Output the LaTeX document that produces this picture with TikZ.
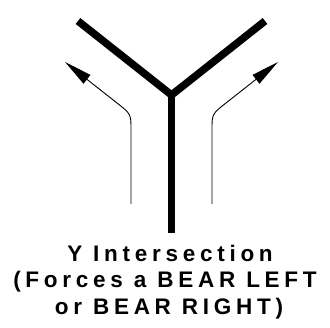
\documentclass[tikz,border=0pt]{standalone}
\usepackage{fontspec}
\setmainfont{Liberation Sans}
\newfontfamily\signfont[LetterSpace=21]{Liberation Sans}
\usetikzlibrary{arrows.meta}
\tikzset{
  road/.style={line width=7.5bp, line cap=butt, line join=miter},
  lane/.style={line width=0.9bp, -{Triangle[length=28bp,width=11bp]}},
  caption/.style={inner sep=0, anchor=base, font=\signfont\bfseries\fontsize{22.5bp}{27bp}\selectfont},
}
\begin{document}
\begin{tikzpicture}[x=1bp,y=1bp]
            \useasboundingbox (0,0) rectangle (330,328);

            % 道路 Y 形
            \coordinate (J) at (171.5,233);
            \coordinate (armL) at (78,307);
            \coordinate (armR) at (265,307);
            \coordinate (stem) at (171.5,95);
            \draw[road] (armL) -- (J) -- (armR);
            \draw[road] (J) -- (stem);

            % 左转箭头
            \coordinate (startL) at (131,124);
            \coordinate (tipL) at (65,266);
            \draw[lane] (startL) -- (131,198) .. controls (131,214) .. (117,225) -- (tipL);

            % 右转箭头
            \coordinate (startR) at (212,124);
            \coordinate (tipR) at (278,266);
            \draw[lane] (startR) -- (212,198) .. controls (212,214) .. (226,225) -- (tipR);

            % 说明文字
            \node[caption] (title) at (170,67) {Y Intersection};
            \node[caption] (forces) at (165,40.5) {(Forces a BEAR LEFT};
            \node[caption] (bear) at (169,14) {or BEAR RIGHT)};
        \end{tikzpicture}
\end{document}
